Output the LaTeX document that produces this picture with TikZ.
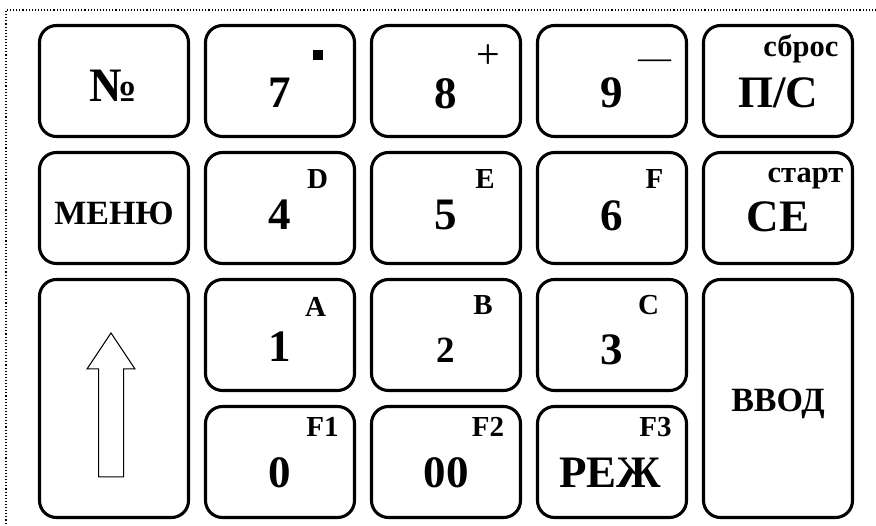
\documentclass[tikz,border=0pt]{standalone}
\usepackage{fontspec}
\setmainfont{Liberation Serif}
\usepackage{tikz}

\tikzset{
  keybox/.style={draw, line width=3.1pt, rounded corners=17pt, minimum width=149pt, minimum height=111pt, inner sep=0pt},
  tallkey/.style={keybox, minimum height=238pt},
  mainlbl/.style={font=\fontsize{45}{45}\selectfont\bfseries, inner sep=0pt, anchor=base},
  bigcyr/.style={mainlbl, font=\fontsize{45}{45}\selectfont\bfseries},
  wordlbl/.style={mainlbl, font=\fontsize{34}{34}\selectfont\bfseries},
  sublbl/.style={font=\fontsize{29}{29}\selectfont\bfseries, inner sep=0pt, anchor=base},
  cyrsub/.style={sublbl, font=\fontsize{30.5}{30.5}\selectfont\bfseries, anchor=base east},
  signlbl/.style={font=\fontsize{42}{42}\selectfont, inner sep=0pt},
}

\begin{document}
\begin{tikzpicture}[x=1pt, y=-1pt, node distance=166pt]
\useasboundingbox (0,0) rectangle (876,526);
\draw[dotted, line width=1.1pt] (876,10) -- (6,10) -- (6,526);

% keys
\node[name=num, keybox] at (114,81) {};
\node[name=k7, keybox, right of=num] {};
\node[name=k8, keybox, right of=k7] {};
\node[name=k9, keybox, right of=k8] {};
\node[name=reset, keybox, right of=k9] {};
\node[name=menu, keybox, node distance=127pt, below of=num] {};
\node[name=k4, keybox, right of=menu] {};
\node[name=k5, keybox, right of=k4] {};
\node[name=k6, keybox, right of=k5] {};
\node[name=clear, keybox, right of=k6] {};
\node[name=k1, keybox, node distance=127pt, below of=k4] {};
\node[name=k2, keybox, right of=k1] {};
\node[name=k3, keybox, right of=k2] {};
\node[name=k0, keybox, node distance=127pt, below of=k1] {};
\node[name=k00, keybox, right of=k0] {};
\node[name=mode, keybox, right of=k00] {};
\node[name=up, tallkey, node distance=190.5pt, below of=menu] {};
\node[name=enter, tallkey, node distance=190.5pt, below of=clear] {};

% main labels
\node[name=num_txt, mainlbl, font=\fontsize{48}{48}\selectfont\bfseries] at ([shift={(0,21)}]num.center) {№};
\node[name=k7_txt, mainlbl] at ([shift={(0,27)}]k7.center) {7};
\node[name=k8_txt, mainlbl] at ([shift={(0,28)}]k8.center) {8};
\node[name=k9_txt, mainlbl] at ([shift={(0,27)}]k9.center) {9};
\node[name=reset_txt, bigcyr] at ([shift={(0,27)}]reset.center) {П/С};
\node[name=menu_txt, wordlbl] at ([shift={(0,17)}]menu.center) {МЕНЮ};
\node[name=k4_txt, mainlbl] at ([shift={(0,22)}]k4.center) {4};
\node[name=k5_txt, mainlbl] at ([shift={(0,22)}]k5.center) {5};
\node[name=k6_txt, mainlbl] at ([shift={(0,23)}]k6.center) {6};
\node[name=clear_txt, bigcyr] at ([shift={(0,24)}]clear.center) {СЕ};
\node[name=k1_txt, mainlbl] at ([shift={(0,27)}]k1.center) {1};
\node[name=k2_txt, mainlbl, font=\fontsize{37}{37}\selectfont\bfseries] at ([shift={(0,28)}]k2.center) {2};
\node[name=k3_txt, mainlbl] at ([shift={(0,30)}]k3.center) {3};
\node[name=k0_txt, mainlbl] at ([shift={(0,26)}]k0.center) {0};
\node[name=k00_txt, mainlbl] at ([shift={(0,26)}]k00.center) {00};
\node[name=mode_txt, bigcyr] at ([shift={(-2,26)}]mode.center) {РЕЖ};
\node[name=enter_txt, wordlbl] at ([shift={(0,13.5)}]enter.center) {ВВОД};

% small labels
\node[name=dot, fill, minimum size=10pt, inner sep=0pt] at ([shift={(37.5,-25.5)}]k7.center) {};
\node[name=plus, signlbl] at ([shift={(42,-24)}]k8.center) {+};
\node[name=minus, signlbl, font=\fontsize{33}{33}\selectfont] at ([shift={(42.5,-17)}]k9.center) {—};
\node[name=reset_sub, cyrsub] at ([shift={(60.5,-24)}]reset.center) {сброс};
\node[name=k4_sub, sublbl] at ([shift={(37.5,-19)}]k4.center) {D};
\node[name=k5_sub, sublbl] at ([shift={(39,-19)}]k5.center) {E};
\node[name=k6_sub, sublbl] at ([shift={(42.5,-19)}]k6.center) {F};
\node[name=clear_sub, cyrsub] at ([shift={(65.5,-25)}]clear.center) {старт};
\node[name=k1_sub, sublbl] at ([shift={(35.5,-18)}]k1.center) {A};
\node[name=k2_sub, sublbl] at ([shift={(37,-20)}]k2.center) {B};
\node[name=k3_sub, sublbl] at ([shift={(36.5,-20)}]k3.center) {C};
\node[name=k0_sub, sublbl] at ([shift={(42.5,-25)}]k0.center) {F1};
\node[name=k00_sub, sublbl] at ([shift={(42,-25)}]k00.center) {F2};
\node[name=mode_sub, sublbl] at ([shift={(43.5,-25)}]mode.center) {F3};

% arrow
\draw[line width=1pt] ([shift={(-3,-65.5)}]up.center) -- ++(-24,36) -- ++(11.5,0) -- ++(0,108)
  -- ++(25,0) -- ++(0,-108) -- ++(11.5,0) -- cycle;
\end{tikzpicture}
\end{document}
